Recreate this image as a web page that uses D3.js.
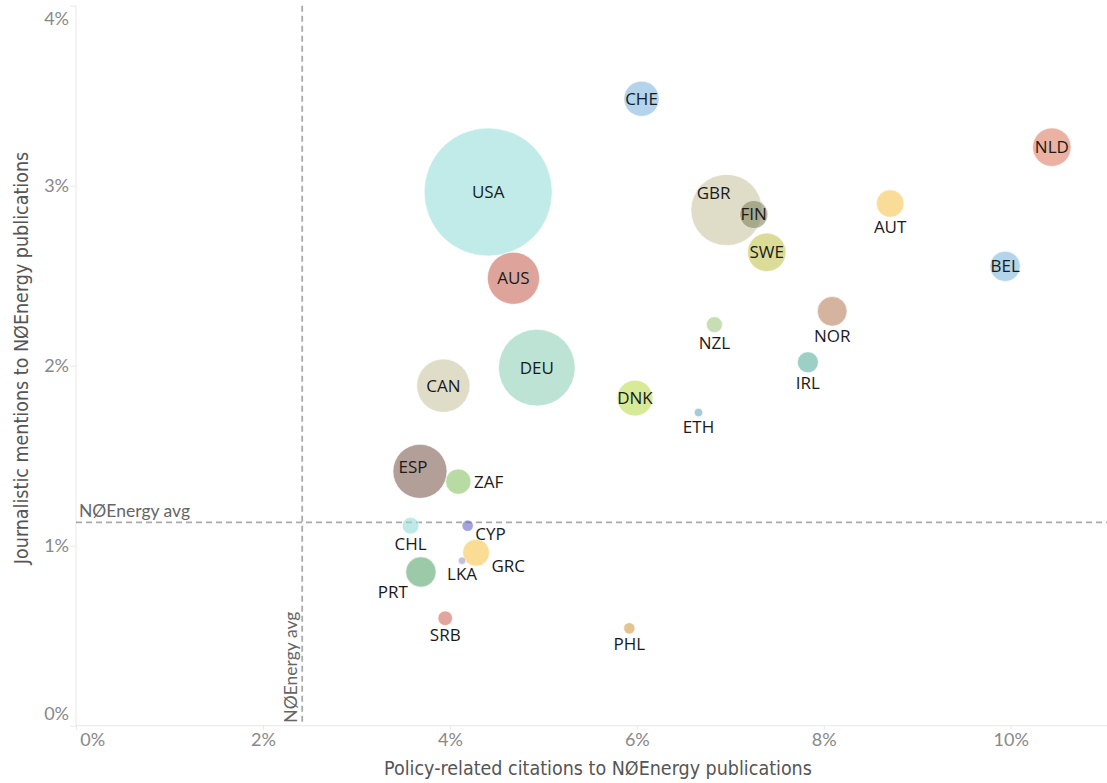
<!DOCTYPE html>
<html>
<head>
<meta charset="utf-8">
<script src="https://cdn.jsdelivr.net/npm/d3@7"></script>
<style>
  html, body { margin: 0; padding: 0; background: #fff; overflow: hidden; }
  svg { display: block; }
  .tick text { font-family: Lato, "Open Sans", sans-serif; fill: #888; }
</style>
</head>
<body>
<div id="chart"></div>
<script>
// data
const countries = ["USA", "CHE", "AUS", "DEU", "CAN", "GBR", "FIN", "SWE", "NLD", "AUT", "BEL", "NOR", "NZL",
  "IRL", "ETH", "DNK", "ESP", "ZAF", "CHL", "CYP", "GRC", "LKA", "PRT", "SRB", "PHL"];
const policyCitations = [0.0441, 0.0605, 0.0468, 0.0493, 0.0393, 0.0696, 0.0725, 0.0739, 0.1044, 0.0871, 0.0994, 0.0809, 0.0683,
  0.0783, 0.0666, 0.0598, 0.0368, 0.0409, 0.0358, 0.0419, 0.0428, 0.0413, 0.0369, 0.0395, 0.0592];
const journalMentions = [0.02965, 0.03483, 0.02486, 0.01989, 0.01889, 0.02865, 0.0284, 0.0263, 0.03214, 0.02901, 0.02552, 0.02302, 0.02228,
  0.02019, 0.0174, 0.0182, 0.01413, 0.01356, 0.01111, 0.01111, 0.00961, 0.00917, 0.00854, 0.00597, 0.00541];
const publications = [410, 31, 68, 147, 71, 127, 20, 37, 37, 19, 23, 22, 6.4,
  11, 1.8, 32, 73, 16, 7, 3.2, 18, 1.4, 23, 5.3, 3.2];
const colors = ["#98ded9", "#80b7dc", "#c86758", "#91d0b7", "#cac5a3", "#cac5a3", "#838561", "#c3c553", "#de7f66", "#f3c553", "#80b7dc", "#b7825d", "#a0c684",
  "#5aaf9e", "#6ca8c3", "#bcdc53", "#7f5f53", "#87c366", "#94dad7", "#6666c5", "#f8c54d", "#9b96ca", "#5aa56e", "#cb695a", "#cd9d44"];
const labelPlace = ["c", "c", "c", "c", "c", "gbr", "c", "c", "c", "b", "c", "b", "b",
  "b", "b", "c", "esp", "r", "b", "br", "br", "b", "bl", "b", "b"];
const avgPolicy = 0.0242;
const avgJournal = 0.0113;
const xTicks = [0, 0.02, 0.04, 0.06, 0.08, 0.10];
const yTicks = [0, 0.01, 0.02, 0.03, 0.04];

const width = 1107, height = 783;
const margin = { left: 76, right: 0, top: 5.7, bottom: 57.3 };
const innerWidth = width - margin.left - margin.right;
const innerHeight = height - margin.top - margin.bottom;

const svg = d3.select("#chart").append("svg").attr("width", width).attr("height", height);
const g = svg.append("g").attr("transform", `translate(${margin.left},${margin.top})`);

const xScale = d3.scaleLinear().domain([0, 0.1103]).range([0, innerWidth]);
const yScale = d3.scaleLinear().domain([0, 0.04]).range([innerHeight, 0]);
const rScale = d3.scaleSqrt().domain([0, 410]).range([0, 64]);

const data = countries.map((c, i) => ({
  name: c, x: policyCitations[i], y: journalMentions[i], size: publications[i], color: colors[i], place: labelPlace[i]
}));

// axes
const yAxis = g.append("g")
  .call(d3.axisLeft(yScale).tickValues(yTicks).tickFormat(d3.format(".0%")).tickSize(6).tickPadding(1));
const xAxis = g.append("g")
  .attr("transform", `translate(0,${innerHeight})`)
  .call(d3.axisBottom(xScale).tickValues(xTicks).tickFormat(d3.format(".0%")).tickSize(4).tickPadding(4));
[yAxis, xAxis].forEach(a => {
  a.select(".domain").attr("stroke", "#e8e8e8");
  a.selectAll(".tick line").attr("stroke", "#e8e8e8");
  a.selectAll(".tick text").style("font-size", "18px");
});
xAxis.select(".domain").attr("d", `M0,0H${innerWidth}`);
yAxis.select(".domain").attr("d", `M0,0V${innerHeight}`);
// end labels pulled inside like the original
yAxis.selectAll(".tick text").attr("dy", d => d === 0.04 ? "1.05em" : d === 0 ? "-0.35em" : "0.32em");
xAxis.selectAll(".tick text").attr("dx", d => d === 0 ? "0.9em" : 0);

// average lines
g.append("line")
  .attr("x1", 0).attr("x2", innerWidth)
  .attr("y1", yScale(avgJournal)).attr("y2", yScale(avgJournal))
  .attr("stroke", "#aaa").attr("stroke-width", 1.8).attr("stroke-dasharray", "6,4");
g.append("line")
  .attr("x1", xScale(avgPolicy)).attr("x2", xScale(avgPolicy))
  .attr("y1", 0).attr("y2", innerHeight)
  .attr("stroke", "#aaa").attr("stroke-width", 1.8).attr("stroke-dasharray", "6,4");
g.append("text")
  .attr("x", 3).attr("y", yScale(avgJournal) - 5)
  .text("NØEnergy avg")
  .style("font-family", "Lato, sans-serif").style("font-size", "17.5px").attr("fill", "#666");
g.append("text")
  .attr("transform", `translate(${xScale(avgPolicy) - 5},${innerHeight - 3}) rotate(-90)`)
  .text("NØEnergy avg")
  .style("font-family", "Lato, sans-serif").style("font-size", "17.5px").attr("fill", "#666");

// bubbles, biggest first
const sorted = data.slice().sort((a, b) => b.size - a.size);
g.selectAll("circle")
  .data(sorted)
  .join("circle")
  .attr("cx", d => xScale(d.x))
  .attr("cy", d => yScale(d.y))
  .attr("r", d => rScale(d.size))
  .attr("fill", d => d.color)
  .attr("fill-opacity", 0.6)
  .attr("stroke", "white")
  .attr("stroke-width", 0.6);

// labels
const labelPos = (d) => {
  const cx = xScale(d.x), cy = yScale(d.y), r = rScale(d.size);
  switch (d.place) {
    case "b": return { x: cx, y: cy + r + 10, a: "middle" };
    case "r": return { x: cx + r + 3, y: cy, a: "start" };
    case "br": return { x: cx + r + 2, y: cy + r * 0.7 + 4, a: "start" };
    case "bl": return { x: cx - r + 2, y: cy + r + 5, a: "end" };
    case "gbr": return { x: cx - 13, y: cy - 17, a: "middle" };
    case "esp": return { x: cx - 7, y: cy - 4, a: "middle" };
    default: return { x: cx, y: cy, a: "middle" };
  }
};
g.selectAll(".lbl")
  .data(data)
  .join("text")
  .attr("class", "lbl")
  .each(function (d) {
    const p = labelPos(d);
    d3.select(this).attr("x", p.x).attr("y", p.y).attr("text-anchor", p.a);
  })
  .attr("dy", "0.35em")
  .text(d => d.name)
  .style("font-family", "'Open Sans', sans-serif")
  .style("font-size", "17px")
  .attr("fill", "#1a1a1a");

// axis titles
svg.append("text")
  .attr("x", margin.left + 522).attr("y", 775)
  .attr("text-anchor", "middle")
  .text("Policy-related citations to NØEnergy publications")
  .style("font-family", "'Liberation Sans Narrow', 'DejaVu Sans Condensed', sans-serif")
  .style("font-size", "19.5px").attr("fill", "#555");
svg.append("text")
  .attr("transform", "translate(28,358) rotate(-90)")
  .attr("text-anchor", "middle")
  .text("Journalistic mentions to NØEnergy publications")
  .style("font-family", "'Liberation Sans Narrow', 'DejaVu Sans Condensed', sans-serif")
  .style("font-size", "19.5px").attr("fill", "#555");
</script>
</body>
</html>
